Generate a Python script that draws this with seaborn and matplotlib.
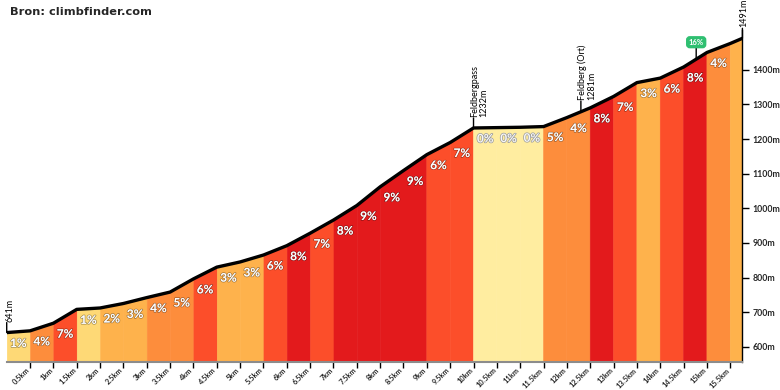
import numpy as np
import matplotlib
matplotlib.use("Agg")
import matplotlib.pyplot as plt
import matplotlib.patheffects as pe
import seaborn as sns

km = [0, 0.5, 1, 1.5, 2, 2.5, 3, 3.5, 4, 4.5, 5, 5.5, 6, 6.5, 7, 7.5, 8, 8.5,
      9, 9.5, 10, 10.5, 11, 11.5, 12, 12.5, 13, 13.5, 14, 14.5, 15, 15.5, 15.76]
hoogte = [641, 646, 668, 708, 712, 725, 742, 758, 796, 830, 845, 865, 892, 928,
          966, 1008, 1062, 1109, 1155, 1190, 1232, 1233, 1234, 1236, 1262, 1290,
          1323, 1363, 1376, 1408, 1450, 1476, 1491]
stijging = [1, 4, 7, 1, 2, 3, 4, 5, 6, 3, 3, 6, 8, 7, 8, 9, 9, 9, 6, 7, 0, 0, 0,
            5, 4, 8, 7, 3, 6, 8, 4, 3]

xticks = [0.5, 1, 1.5, 2, 2.5, 3, 3.5, 4, 4.5, 5, 5.5, 6, 6.5, 7, 7.5, 8, 8.5,
          9, 9.5, 10, 10.5, 11, 11.5, 12, 12.5, 13, 13.5, 14, 14.5, 15, 15.5]
xlabels = ["0.5km", "1km", "1.5km", "2km", "2.5km", "3km", "3.5km", "4km",
           "4.5km", "5km", "5.5km", "6km", "6.5km", "7km", "7.5km", "8km",
           "8.5km", "9km", "9.5km", "10km", "10.5km", "11km", "11.5km", "12km",
           "12.5km", "13km", "13.5km", "14km", "14.5km", "15km", "15.5km"]
yticks = [600, 700, 800, 900, 1000, 1100, 1200, 1300, 1400]
ylabels = ["600m", "700m", "800m", "900m", "1000m", "1100m", "1200m", "1300m", "1400m"]

# markeringen
punt_km = [0, 10, 12.3, 15.76]
punt_hoogte = [641, 1232, 1281, 1491]
punt_tekst = ["641m", "Feldbergpass\n1232m", "Feldberg (Ort)\n1281m", "1491m"]
piek_km, piek_hoogte, piek_tekst = 14.77, 1432, "16%"

kleuren = {0: "#ffeda0", 1: "#fed976", 2: "#feb24c", 3: "#feb24c",
           4: "#fd8d3c", 5: "#fd8d3c", 6: "#fc4e2a", 7: "#fc4e2a",
           8: "#e31a1c", 9: "#e31a1c"}

sns.set_style("white")
plt.rcParams['font.family'] = ['Lato', 'DejaVu Sans']

fig = plt.figure(figsize=(7.8, 3.9), dpi=100)
ax = fig.add_axes([0.0086, 0.0718, 0.9432, 0.8513])

# gekleurde segmenten
for i, g in enumerate(stijging):
    ax.fill_between(km[i:i + 2], hoogte[i:i + 2], 0, color=kleuren[g], lw=0.4,
                    edgecolor=kleuren[g])
    if km[i + 1] - km[i] >= 0.45:
        kleur_t = "#f7f7f7" if g == 0 else "white"
        rand = "#9a9a9a" if g == 0 else (0, 0, 0, 0.35)
        ax.annotate(f"{g}%", xy=((km[i] + km[i + 1]) / 2, hoogte[i]),
                    xytext=(0, -11), textcoords="offset pixels",
                    ha="center", va="center", fontsize=8.5, fontweight="bold",
                    color=kleur_t,
                    path_effects=[pe.withStroke(linewidth=1, foreground=rand)])

sns.lineplot(x=km, y=hoogte, color="black", lw=2.4, ax=ax)

# markeringen met tekst
for x, h, t in zip(punt_km, punt_hoogte, punt_tekst):
    ax.annotate("", xy=(x, h), xytext=(0, 10), textcoords="offset pixels",
                arrowprops=dict(arrowstyle="-", color="black", lw=1,
                                shrinkA=0, shrinkB=0), annotation_clip=False)
    dx = -1 if x == 0 else -3
    ax.annotate(t, xy=(x, h), xytext=(dx, 11), textcoords="offset pixels",
                rotation=90, ha="left", va="bottom", multialignment="left",
                fontsize=6.5, color="black", linespacing=0.95,
                annotation_clip=False)

ax.annotate(piek_tekst, xy=(piek_km, piek_hoogte), xytext=(0, 13),
            textcoords="offset pixels", ha="center", va="bottom",
            fontsize=5.5, fontweight="bold", color="white",
            bbox=dict(boxstyle="round,pad=0.25,rounding_size=0.4",
                      fc="#2fbf71", ec="#2fbf71"),
            arrowprops=dict(arrowstyle="-", color="black", lw=1,
                            shrinkA=0, shrinkB=0))

ax.set_xlim(0, 15.76)
ax.set_ylim(556, 1515)
ax.set_xticks(xticks)
ax.set_xticklabels(xlabels, rotation=45, ha="right", va="baseline",
                   rotation_mode="anchor", fontsize=5.3, fontweight="bold")
ax.set_yticks(yticks)
ax.set_yticklabels(ylabels, fontsize=6.3, fontweight="bold")
ax.yaxis.tick_right()
ax.tick_params(axis="x", length=4.5, width=1, color="black", pad=1.8, bottom=True)
ax.tick_params(axis="y", length=5, width=1, color="black", pad=2, right=True)
ax.set_xlabel("")
ax.set_ylabel("")
for s in ["top", "left"]:
    ax.spines[s].set_visible(False)
ax.spines["right"].set_color("black")
ax.spines["right"].set_linewidth(1)
ax.spines["bottom"].set_color("#8c8c8c")
ax.spines["bottom"].set_linewidth(1.5)

fig.text(10 / 780, 1 - 12 / 390, "Bron: climbfinder.com", fontsize=8.2,
         fontweight="bold", family="DejaVu Sans", ha="left", va="center")

fig.savefig("out.png", dpi=100)
